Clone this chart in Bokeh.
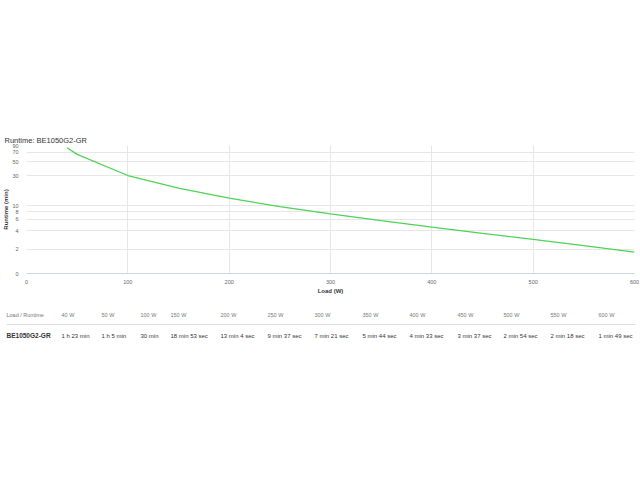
from bokeh.plotting import figure
from bokeh.models import ColumnDataSource, Range1d, FixedTicker
from bokeh.layouts import column
from bokeh.embed import file_html
from bokeh.resources import INLINE
from bokeh.core.properties import value

# ---------------- data ----------------
model_name = "BE1050G2-GR"
loads_w = [40, 50, 100, 150, 200, 250, 300, 350, 400, 450, 500, 550, 600]
runtime_min = [83.0, 65.0, 30.0, 18.88, 13.07, 9.62, 7.35, 5.73, 4.55, 3.62, 2.90, 2.30, 1.82]
runtime_text = ["1 h 23 min", "1 h 5 min", "30 min", "18 min 53 sec", "13 min 4 sec",
                "9 min 37 sec", "7 min 21 sec", "5 min 44 sec", "4 min 33 sec",
                "3 min 37 sec", "2 min 54 sec", "2 min 18 sec", "1 min 49 sec"]
load_text = [f"{w} W" for w in loads_w]
x_tick_values = [0, 100, 200, 300, 400, 500, 600]
y_tick_values = [0.83, 2, 4, 6, 8, 10, 30, 50, 70, 90]
y_tick_labels = ["0", "2", "4", "6", "8", "10", "30", "50", "70", "90"]

# ---------------- layout constants ----------------
FONT = "Liberation Sans"
W = 640
H1 = 296
H2 = 176
col_x = [6, 61, 101, 140, 170, 220, 267, 314, 362, 409, 457, 503, 550, 598]

# ---------------- chart ----------------
p = figure(width=W, height=H1, x_range=Range1d(0, 600),
           y_range=Range1d(y_tick_values[0], y_tick_values[-1]), y_axis_type="log",
           output_backend="svg", toolbar_location=None,
           min_border_top=145, min_border_bottom=0, min_border_left=0, min_border_right=6)
p.frame_align = False
p.outline_line_color = None
p.background_fill_color = "white"
p.border_fill_color = "white"

p.title.text = "Runtime: " + model_name
p.title.align = "left"
p.title.offset = -22
p.title.standoff = 2
p.title.text_font = FONT
p.title.text_font_size = "7.5px"
p.title.text_font_style = "normal"
p.title.text_color = "#333333"

p.line(x=loads_w, y=runtime_min, line_color="#4fd255", line_width=1.3)

p.xaxis.ticker = FixedTicker(ticks=x_tick_values)
p.yaxis.ticker = FixedTicker(ticks=y_tick_values)
p.yaxis.major_label_overrides = dict(zip(y_tick_values, y_tick_labels))

for ax in (p.xaxis, p.yaxis):
    ax.major_tick_line_color = None
    ax.minor_tick_line_color = None
    ax.major_label_text_font = FONT
    ax.major_label_text_font_size = "5.5px"
    ax.major_label_text_color = "#666666"
    ax.axis_label_text_font = FONT
    ax.axis_label_text_font_size = "6px"
    ax.axis_label_text_font_style = "bold"
    ax.axis_label_text_color = "#333333"

p.xaxis.major_label_standoff = 0
p.xaxis.axis_label_standoff = 1
p.yaxis.major_label_standoff = 2
p.yaxis.axis_label_standoff = 0

p.xaxis.axis_label = "Load (W)"
p.yaxis.axis_label = "Runtime (min)"
p.xaxis.axis_line_color = "#ccd6eb"
p.yaxis.axis_line_color = None

p.xgrid.grid_line_color = "#e6e6e6"
p.ygrid.grid_line_color = "#e6e6e6"

# ---------------- table ----------------
t = figure(width=W, height=H2, x_range=Range1d(0, W), y_range=Range1d(H2, 0),
           output_backend="svg", toolbar_location=None,
           x_axis_location=None, y_axis_location=None, min_border=0)
t.frame_align = False
t.outline_line_color = None
t.xgrid.visible = False
t.ygrid.visible = False

header_src = ColumnDataSource(dict(x=col_x, y=[18] * len(col_x),
                                   text=["Load / Runtime"] + load_text))
t.text(x="x", y="y", text="text", source=header_src, text_font=value(FONT),
       text_font_size="5.5px", text_color="#777777", text_baseline="middle", text_align="left")

t.segment(x0=[6], y0=[28], x1=[635], y1=[28], line_color="#dddddd", line_width=1)

t.text(x=[col_x[0]], y=[39], text=[model_name], text_font=value(FONT),
       text_font_size="6.5px", text_font_style="bold", text_color="#333333",
       text_baseline="middle", text_align="left")
row_src = ColumnDataSource(dict(x=col_x[1:], y=[39] * len(runtime_text), text=runtime_text))
t.text(x="x", y="y", text="text", source=row_src, text_font=value(FONT),
       text_font_size="6px", text_color="#333333", text_baseline="middle", text_align="left")

layout = column(p, t, spacing=0)
open("out.html", "w").write(file_html(layout, INLINE))
